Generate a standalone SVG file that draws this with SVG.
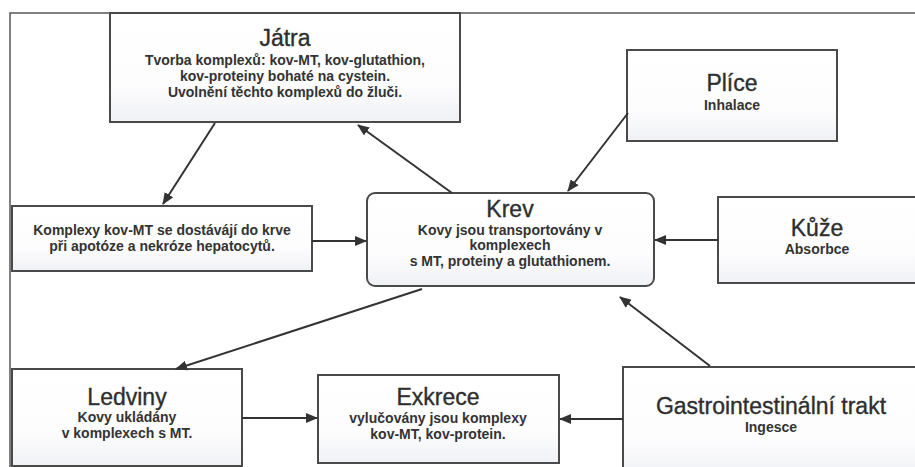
<svg xmlns="http://www.w3.org/2000/svg" width="915" height="467" viewBox="0 0 915 467">
<style>
.box{fill:url(#g);stroke:#4a4a4a;stroke-width:2}
.t{font-family:"Liberation Sans",Arial,sans-serif;font-size:23px;fill:#2e2e2e;stroke:#2e2e2e;stroke-width:0.35;text-anchor:middle}
.s{font-family:"Liberation Sans",Arial,sans-serif;font-size:14px;font-weight:bold;fill:#333;text-anchor:middle}
.c{stroke:#333;stroke-width:2;fill:none;marker-end:url(#a)}
.frame{stroke:#555;stroke-width:1.5;fill:none}
</style>
<defs>
<linearGradient id="g" x1="0" y1="0" x2="0" y2="1">
<stop offset="0" stop-color="#ffffff"/>
<stop offset="0.65" stop-color="#fdfdfe"/>
<stop offset="1" stop-color="#f0f1f5"/>
</linearGradient>
<marker id="a" markerUnits="userSpaceOnUse" markerWidth="12" markerHeight="10" refX="11" refY="5" orient="auto">
<path d="M0,0 L12,5 L0,10 z" fill="#333"/>
</marker>
</defs>
<rect width="915" height="467" fill="#fff"/>
<path class="frame" d="M10,467 L10,13 L915,13"/>

<g id="jatra">
<rect class="box" x="110" y="13" width="350" height="109"/>
<text class="t" x="285" y="46">Játra</text>
<text class="s" x="285" y="65">Tvorba komplexů: kov-MT, kov-glutathion,</text>
<text class="s" x="285" y="81">kov-proteiny bohaté na cystein.</text>
<text class="s" x="285" y="97">Uvolnění těchto komplexů do žluči.</text>
</g>

<g id="komplexy">
<rect class="box" x="12" y="206" width="300" height="65"/>
<text class="s" x="162" y="235">Komplexy kov-MT se dostávájí do krve</text>
<text class="s" x="162" y="251">při apotóze a nekróze hepatocytů.</text>
</g>

<g id="krev">
<rect class="box" x="367" y="193" width="287" height="93" rx="8" ry="8"/>
<text class="t" x="510" y="217">Krev</text>
<text class="s" x="510" y="235">Kovy jsou transportovány v</text>
<text class="s" x="510" y="250">komplexech</text>
<text class="s" x="510" y="266">s MT, proteiny a glutathionem.</text>
</g>

<g id="plice">
<rect class="box" x="627" y="50" width="210" height="91"/>
<text class="t" x="732" y="91">Plíce</text>
<text class="s" x="732" y="110">Inhalace</text>
</g>

<g id="kuze">
<rect class="box" x="718" y="197" width="200" height="86"/>
<text class="t" x="817" y="236">Kůže</text>
<text class="s" x="817" y="254">Absorbce</text>
</g>

<g id="ledviny">
<rect class="box" x="12" y="369" width="230" height="97"/>
<text class="t" x="127" y="405">Ledviny</text>
<text class="s" x="127" y="422">Kovy ukládány</text>
<text class="s" x="127" y="438">v komplexech s MT.</text>
</g>

<g id="exkrece">
<rect class="box" x="318" y="375" width="241" height="88"/>
<text class="t" x="438" y="405">Exkrece</text>
<text class="s" x="438" y="423">vylučovány jsou komplexy</text>
<text class="s" x="438" y="439">kov-MT, kov-protein.</text>
</g>

<g id="gi">
<rect class="box" x="623" y="367" width="300" height="110"/>
<text class="t" x="771" y="414">Gastrointestinální trakt</text>
<text class="s" x="771" y="432">Ingesce</text>
</g>

<g id="connectors">
<path class="c" d="M215,123 L163,204"/>
<path class="c" d="M452,193 L358,125"/>
<path class="c" d="M312,241 L366,241"/>
<path class="c" d="M628,113 L568,191"/>
<path class="c" d="M718,240 L655,240"/>
<path class="c" d="M422,289 L176,369"/>
<path class="c" d="M710,366 L620,297"/>
<path class="c" d="M242,418 L317,418"/>
<path class="c" d="M623,419 L560,419"/>
</g>
</svg>
